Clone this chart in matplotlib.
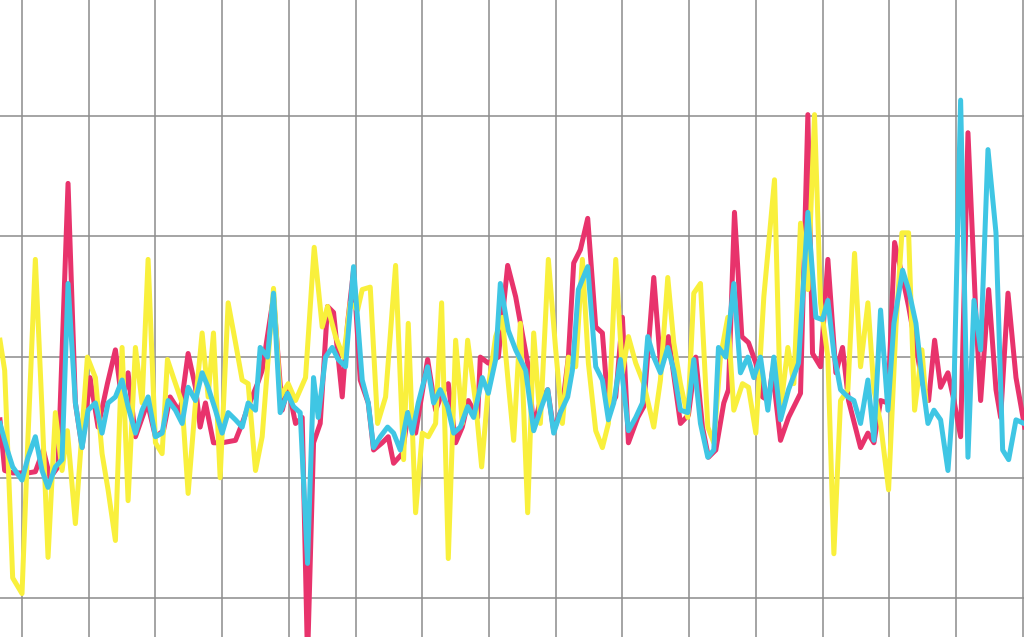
import numpy as np
import matplotlib
matplotlib.use("Agg")
import matplotlib.pyplot as plt

# Series values (x = time, y = level)
pink_x = [-3.3, -2.6, -1.4, 0.9, 2.0, 3.2, 4.2, 5.4, 6.9, 8.0, 9.0, 10.2, 11.4, 12.8, 14.0, 15.0, 15.9, 17.0,
          18.8, 20.0, 21.2, 22.2, 23.7, 24.9, 26.0, 26.7, 27.5, 28.7, 30.0, 32.0, 33.0, 33.9, 35.3, 36.0, 37.7,
          39.0, 39.9, 41.0, 42.0, 42.8, 43.7, 44.7, 45.8, 46.7, 48.0, 48.8, 49.7, 50.7, 51.9, 52.7, 54.0, 54.9,
          55.7, 57.0, 57.9, 59.0, 60.8, 62.0, 63.0, 63.9, 65.0, 66.0, 66.9, 68.3, 68.7, 69.9, 71.4, 72.8, 74.0,
          75.8, 76.7, 77.7, 78.8, 79.7, 81.0, 81.9, 82.7, 83.7, 84.8, 86.0, 87.0, 87.9, 89.0, 90.0, 90.9, 92.3,
          93.2, 94.7, 95.7, 96.9, 98.7, 99.9, 101.0, 102.0, 102.9, 104.0, 105.2, 105.9, 106.8, 107.9, 108.9,
          110.0, 111.0, 111.9, 112.5, 113.7, 114.9, 116.7, 117.8, 118.5, 119.7, 120.8, 122.0, 123.0, 123.9,
          125.7, 126.8, 127.7, 128.7, 129.8, 130.8, 132.0, 132.9, 135.0, 135.9, 136.8, 137.7, 138.8, 139.7,
          140.7, 141.8, 143.0, 143.7, 144.9, 146.0, 146.7, 147.8, 149.0, 150.3]
pink_y = [14.8, 10.6, 10.4, 10.4, 10.5, 12.3, 10.0, 10.9, 34.4, 16.2, 12.5, 18.3, 14.2, 17.8, 20.6, 16.2, 18.7, 13.4,
          16.2, 13.4, 13.9, 16.7, 15.4, 20.3, 17.5, 14.2, 16.2, 12.9, 12.9, 13.1, 14.5, 15.9, 17.8, 18.9, 25.0,
          15.6, 17.5, 14.5, 15.0, -5.1, 12.9, 14.5, 24.2, 23.7, 16.7, 22.8, 27.2, 18.1, 16.2, 12.3, 12.9, 13.4,
          11.2, 12.0, 15.4, 13.7, 19.8, 15.6, 17.0, 17.8, 12.9, 14.2, 16.4, 15.0, 20.0, 19.5, 20.0, 27.6, 25.0,
          19.5, 14.2, 16.4, 17.3, 13.9, 15.9, 20.0, 27.8, 28.9, 31.5, 22.5, 22.0, 15.6, 16.7, 23.3, 12.9, 15.0,
          15.9, 26.6, 19.5, 21.7, 14.5, 15.2, 20.0, 14.2, 11.7, 12.3, 16.2, 17.3, 32.0, 21.7, 21.2,
          19.5, 16.7, 16.4, 18.9, 13.1, 15.0, 17.0, 40.1, 20.3, 19.2, 28.1, 18.7, 20.8, 16.4,
          12.5, 13.7, 12.9, 16.4, 16.2, 29.5, 26.6, 24.2, 17.8, 16.4, 21.4, 17.5, 18.7, 16.4,
          13.4, 38.6, 23.3, 16.4, 25.6, 17.3, 15.0, 25.3, 18.3, 14.2]

yellow_x = [-3.3, -2.6, -1.4, 0.0, 0.9, 2.0, 3.0, 3.9, 5.0, 6.0, 6.8, 8.0, 9.8, 11.0, 12.0, 12.9, 14.0, 15.0,
            15.9, 17.0, 18.0, 18.9, 20.0, 21.0, 21.8, 22.7, 24.0, 24.9, 26.0, 27.0, 27.9, 28.7, 29.7, 30.9,
            32.0, 33.0, 33.9, 35.0, 36.0, 37.7, 38.7, 39.9, 41.0, 42.5, 43.8, 45.0, 45.8, 47.0, 48.2, 49.2,
            50.3, 51.0, 52.2, 53.3, 54.5, 56.0, 57.2, 57.9, 59.0, 60.0, 60.9, 62.0, 62.9, 63.9, 65.0, 66.0,
            66.8, 68.0, 68.9, 69.9, 71.0, 72.0, 72.9, 73.7, 74.7, 75.8, 76.7, 77.7, 78.9, 80.0, 81.0, 81.9,
            83.0, 84.0, 84.9, 86.0, 87.0, 87.9, 89.0, 90.0, 90.9, 92.0, 93.2, 94.7, 95.7, 96.8, 97.7, 98.7,
            99.8, 100.7, 101.7, 102.8, 103.7, 104.7, 105.8, 106.7, 108.0, 108.9, 110.0, 111.2, 112.8, 113.7,
            114.8, 115.7, 116.7, 117.8, 118.8, 119.7, 120.8, 121.7, 122.7, 123.8, 124.8, 125.7, 126.8, 127.7,
            128.7, 129.9, 131.0, 131.9, 132.9, 133.8, 134.9, 135.5]
yellow_y = [21.4, 18.9, 1.7, 0.4, 13.4, 28.1, 15.6, 3.4, 15.4, 10.6, 13.9, 6.2, 20.0, 18.3, 12.0, 9.0, 4.8, 20.8,
            8.1, 20.8, 16.2, 28.1, 12.9, 12.0, 19.8, 18.3, 16.2, 8.7, 16.2, 22.0, 16.7, 22.0, 10.0, 24.5,
            21.2, 18.1, 17.8, 10.6, 13.4, 25.7, 16.7, 17.8, 16.4, 18.3, 29.1, 22.5, 24.2, 21.7, 20.0, 24.5,
            23.9, 25.6, 25.8, 14.5, 16.7, 27.6, 11.5, 22.8, 7.1, 13.7, 13.4, 14.5, 24.5, 3.3, 21.4, 14.5,
            21.4, 16.2, 10.9, 17.5, 21.7, 23.3, 17.8, 13.1, 22.8, 7.1, 22.0, 14.5, 28.1, 20.6, 14.5, 20.0,
            19.2, 28.1, 19.5, 13.9, 12.5, 14.5, 28.1, 18.7, 21.7, 19.5, 17.8, 14.2, 18.1, 26.6, 21.2, 17.8,
            15.0, 25.3, 26.1, 14.2, 12.9, 20.0, 23.3, 15.6, 17.8, 17.5, 13.7, 25.0, 34.7, 15.6,
            20.8, 17.8, 31.1, 25.6, 40.1, 24.5, 20.0, 3.7, 16.4, 17.3, 28.6, 19.2, 24.5, 17.3,
            14.5, 9.0, 22.5, 30.3, 30.3, 15.6, 20.6, 16.4]

cyan_x = [-3.3, -2.2, -1.4, 0.0, 0.9, 2.0, 3.0, 3.9, 5.0, 6.0, 6.9, 8.0, 9.0, 9.9, 11.0, 12.0, 12.9, 14.0, 15.0,
          15.9, 17.0, 18.0, 18.9, 20.0, 21.0, 21.9, 23.0, 24.0, 24.9, 26.0, 27.0, 27.9, 29.0, 30.0, 30.9, 32.0,
          33.0, 33.9, 35.0, 35.7, 36.8, 37.7, 38.7, 39.8, 40.7, 41.7, 42.8, 43.7, 44.4, 45.5, 46.5, 47.4, 48.5,
          49.7, 51.0, 51.9, 52.7, 53.7, 54.8, 55.7, 56.7, 57.8, 58.5, 59.4, 60.8, 61.7, 62.7, 63.8, 64.7, 65.7,
          66.8, 67.7, 69.0, 69.9, 71.0, 71.7, 72.9, 74.0, 75.5, 76.7, 77.7, 78.8, 79.7, 80.7, 81.8, 82.5, 83.4,
          84.8, 86.0, 87.0, 87.9, 88.7, 89.7, 90.9, 92.0, 93.0, 93.8, 94.7, 95.7, 96.8, 97.7, 98.7, 99.8, 100.7,
          101.7, 102.8, 103.7, 104.4, 105.5, 106.7, 107.7, 108.8, 109.7, 110.7, 111.8, 112.7, 113.7, 114.9,
          116.4, 117.8, 119.0, 120.0, 120.8, 121.7, 122.7, 123.8, 124.7, 125.7, 126.8, 127.7, 128.7, 129.8,
          130.7, 132.0, 132.9, 134.0, 135.0, 135.8, 136.7, 137.7, 138.8, 139.7, 140.7, 141.8, 142.7, 143.7,
          144.8, 146.0, 147.0, 147.9, 149.0, 150.2]
cyan_y = [14.5, 12.3, 10.9, 9.8, 11.7, 13.4, 10.6, 9.2, 10.9, 11.5, 26.1, 16.2, 12.5, 15.6, 16.2, 13.7, 16.2, 16.7, 18.1,
          15.9, 13.7, 15.6, 16.7, 13.4, 13.7, 16.4, 15.6, 14.5, 17.5, 16.4, 18.7, 17.5, 15.6, 13.7, 15.4, 14.8,
          14.2, 16.2, 15.6, 20.8, 20.0, 25.3, 15.4, 17.0, 15.9, 15.4, 2.9, 18.3, 15.0, 20.0, 20.8, 19.8, 19.2,
          27.5, 18.1, 16.2, 12.5, 13.4, 14.2, 13.7, 12.3, 15.4, 13.7, 16.2, 19.2, 16.2, 17.3, 15.9, 13.7, 14.2,
          15.9, 15.0, 18.3, 17.0, 19.8, 26.1, 22.2, 20.6, 18.9, 13.9, 15.6, 17.3, 13.7, 15.4, 16.7, 18.9, 25.6,
          27.5, 19.2, 18.1, 14.8, 16.2, 19.8, 13.9, 15.0, 16.2, 21.7, 20.0, 18.7, 20.8, 18.9, 15.6, 15.4, 19.8,
          14.5, 11.7, 12.3, 20.8, 20.0, 26.1, 18.7, 20.0, 18.3, 20.0, 15.6, 20.0, 14.8, 17.3,
          19.5, 32.0, 23.3, 23.1, 24.7, 20.3, 17.3, 16.7, 16.4, 14.5, 18.1, 13.1, 23.9, 15.6,
          22.8, 27.2, 25.6, 22.8, 17.8, 14.5, 15.6, 14.8, 10.6, 17.3, 41.3, 11.7, 24.7, 20.6,
          37.2, 30.3, 12.3, 11.5, 14.8, 14.5]

fig = plt.figure(figsize=(10.24, 6.37), dpi=100)
ax = fig.add_axes([0, 0, 1, 1])

ax.plot(pink_x, pink_y, color="#e8336c", lw=3.6, zorder=3)
ax.plot(yellow_x, yellow_y, color="#f9f03c", lw=3.6, zorder=4)
ax.plot(cyan_x, cyan_y, color="#3fc6e4", lw=3.6, zorder=5)

ax.set_xlim(-3.3, 150.2)
ax.set_ylim(-3.2, 49.6)
ax.set_xticks(np.arange(0, 151, 10))
ax.set_yticks(np.arange(0, 41, 10))
ax.grid(True, color="#8c8c8c", lw=1.1)
ax.set_axisbelow(True)
ax.tick_params(length=0, labelbottom=False, labelleft=False)
for s in ax.spines.values():
    s.set_visible(False)

fig.savefig("out.png", dpi=100)
